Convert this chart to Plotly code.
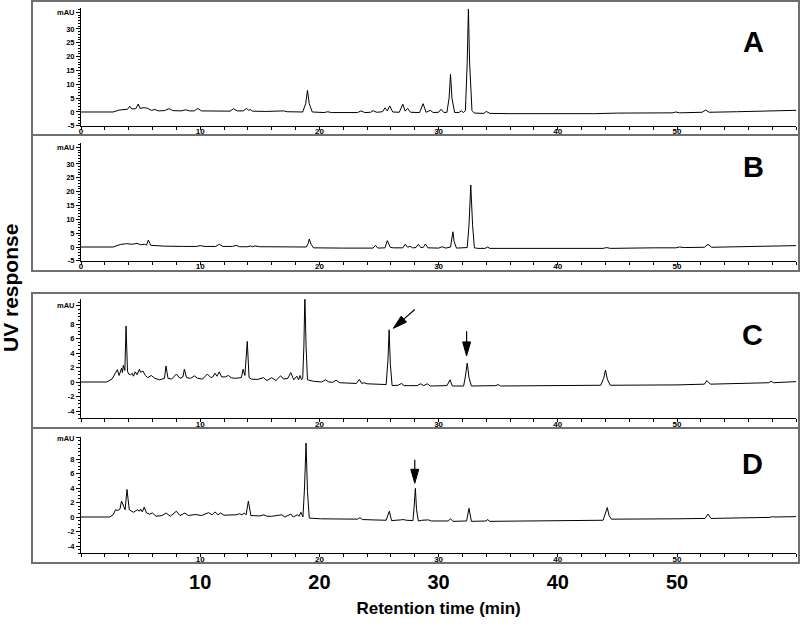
import math
import plotly.graph_objects as go

# chromatogram vertices: retention time (min) and signal (mAU)
rt_a = [0, 2.7, 3.2, 3.6, 3.9, 4.1, 4.25, 4.6, 4.8, 4.95, 5.3, 5.6, 5.9, 6.2, 6.5, 7.0, 7.4, 7.7,
        8.4, 8.8, 9.1, 9.5, 9.8, 10.1, 11.0, 11.6, 12.0, 12.5, 12.8, 13.1, 13.6, 13.9, 14.05, 14.2,
        14.4, 15.5, 17.0, 17.3, 18.6, 18.85, 19.0, 19.15, 19.4, 20.4, 20.7, 21.0, 23.2, 23.5, 23.8,
        24.3, 24.5, 24.8, 25.3, 25.5, 25.7, 25.9, 26.15, 26.7, 27.0, 27.2, 27.4, 27.65, 28.4, 28.7,
        28.95, 29.3, 29.55, 30.0, 30.2, 30.45, 30.7, 30.88, 31.0, 31.12, 31.35, 31.7, 31.9, 32.1,
        32.25, 32.4, 32.5, 32.6, 32.8, 33.0, 33.8, 34.0, 34.3, 36.0, 43.0, 45.0, 49.6, 49.9, 50.2,
        52.1, 52.4, 52.7, 55.0, 60.0]
mau_a = [0, 0, 0.7, 1.0, 1.0, 2.1, 1.1, 1.2, 2.9, 1.3, 1.6, 1.3, 0.6, 0.9, 0.4, 0.5, 1.2, 0.5,
         0.4, 0.8, 0.4, 0.4, 1.3, 0.4, 0.3, 0.5, 0.3, 0.3, 1.2, 0.4, 0.4, 1.3, 0.6, 0.9,
         0.3, 0.2, 0.4, 0.1, 0.0, 3.0, 7.8, 3.0, 0.0, -0.2, 0.1, -0.2, -0.2, 0.4, -0.2,
         -0.1, 0.5, -0.1, 0.1, 1.5, 0.4, 2.2, 0.0, -0.1, 2.8, 0.3, 1.3, -0.1, -0.2, 3.0,
         -0.1, 0.6, -0.2, -0.1, 1.0, -0.2, -0.1, 5.0, 13.6, 5.0, -0.2, -0.2, 0.4, -0.2,
         0.5, 18.0, 37.2, 18.0, 0.5, -0.4, -0.5, 0.2, -0.5, -0.6, -0.6, -0.4, -0.3, 0.0, -0.3,
         -0.1, 0.7, -0.1, 0.1, 0.6]

rt_b = [0, 2.7, 3.3, 3.8, 4.3, 4.7, 5.0, 5.3, 5.5, 5.65, 5.85, 6.3, 7.0, 8.5, 9.7, 10.0, 10.4,
        11.3, 11.6, 11.9, 12.7, 13.0, 13.3, 14.0, 14.2, 14.4, 14.6, 15.0, 17.0, 18.9, 19.05, 19.15,
        19.3, 19.5, 22.0, 24.5, 24.7, 24.9, 25.5, 25.7, 25.95, 26.2, 27.0, 27.2, 27.4, 27.6, 27.8,
        28.1, 28.3, 28.5, 28.7, 28.9, 29.1, 30.0, 30.3, 30.6, 31.0, 31.1, 31.2, 31.3, 31.5, 32.4,
        32.55, 32.7, 32.85, 33.0, 33.3, 33.9, 34.1, 34.3, 40.0, 43.8, 44.1, 44.4, 48.0, 49.9, 50.2,
        50.6, 52.3, 52.6, 52.9, 55.0, 60.0]
mau_b = [0, 0, 0.9, 1.2, 1.0, 1.3, 0.8, 1.0, 0.7, 2.5, 0.6, 0.4, 0.3, 0.2, 0.2, 0.5, 0.2,
         0.2, 1.0, 0.2, 0.2, 0.6, 0.1, 0.1, 0.4, 0.1, 0.4, 0.1, 0.0, 0.0, 1.2, 2.9,
         1.0, -0.3, -0.4, -0.4, 0.6, -0.4, -0.3, 2.3, -0.1, -0.3, -0.3, 1.0, -0.1, 0.3, -0.3,
         -0.2, 1.0, -0.2, -0.2, 1.1, -0.3, -0.4, 0.1, -0.4, 0.0, 2.5, 5.5, 2.0, -0.4, -0.2,
         8.0, 22.4, 8.0, -0.3, -0.5, -0.5, 0.0, -0.5, -0.5, -0.5, -0.2, -0.5, -0.3, -0.3, 0.0,
         -0.2, -0.1, 1.0, -0.1, 0.1, 0.5]

rt_c = [0, 2.15, 2.6, 3.05, 3.2, 3.4, 3.48, 3.55, 3.68, 3.78, 3.9, 4.0, 4.15, 4.3, 4.4, 4.55,
        4.7, 4.9, 5.0, 5.2, 5.4, 5.6, 5.9, 6.2, 6.6, 7.0, 7.13, 7.3, 7.6, 8.0, 8.3, 8.55, 8.67,
        8.85, 9.2, 9.5, 9.8, 10.2, 10.6, 10.9, 11.05, 11.25, 11.4, 11.6, 11.8, 12.1, 12.36, 12.6,
        12.9, 13.2, 13.45, 13.6, 13.75, 13.95, 14.1, 14.3, 14.8, 15.3, 15.6, 16.0, 16.35, 16.75,
        17.0, 17.35, 17.6, 17.85, 18.1, 18.25, 18.37, 18.5, 18.6, 18.7, 18.78, 18.88, 19.0, 19.5,
        20.2, 20.5, 20.8, 21.1, 21.4, 21.7, 23.1, 23.35, 23.55, 23.75, 24.0, 25.6, 25.75, 25.85,
        25.95, 26.1, 26.6, 26.9, 27.1, 27.5, 28.2, 28.5, 28.75, 29.05, 29.3, 30.7, 30.96, 31.15,
        32.1, 32.25, 32.4, 32.55, 32.75, 34.8, 35.0, 35.2, 43.6, 43.85, 44.0, 44.15, 44.4, 50.0,
        52.3, 52.5, 52.8, 57.7, 57.9, 58.1, 60.0]
mau_c = [0, 0, 0.4, 1.7, 0.9, 1.9, 1.3, 2.3, 1.6, 7.7, 1.5, 1.1, 1.0, 1.2, 0.8, 1.4,
         1.0, 1.75, 1.35, 1.5, 0.9, 0.6, 0.9, 0.5, 0.3, 0.5, 2.2, 0.5, 0.4, 1.1, 0.5, 0.7, 1.75,
         0.6, 0.5, 0.85, 0.5, 0.4, 1.1, 0.6, 0.7, 1.2, 0.8, 1.4, 0.7, 0.7, 0.9, 0.6,
         0.5, 0.5, 0.6, 1.75, 0.9, 5.6, 0.6, 0.4, 0.35, 0.6, 0.2, 0.6, 0.2, 0.85,
         0.4, 0.5, 1.3, 0.3, 0.8, 0.3, 0.9, 0.3, 0.5, 5.0, 12.0, 5.0, 0.3, 0.1,
         0.0, 0.3, 0.0, -0.05, 0.25, -0.1, -0.2, 0.35, -0.2, -0.1, -0.25, -0.35, 3.0, 7.2,
         2.5, -0.5, -0.45, -0.2, -0.5, -0.5, -0.5, -0.25, -0.5, -0.25, -0.55, -0.5, 0.3, -0.55,
         -0.55, 0.8, 2.6, 0.6, -0.55, -0.5, -0.35, -0.55, -0.45, 0.5, 1.65, 0.4, -0.45, -0.4,
         -0.3, 0.2, -0.3, -0.1, 0.1, -0.1, 0.05]

rt_d = [0, 2.4, 2.7, 2.9, 3.1, 3.27, 3.4, 3.55, 3.7, 3.86, 4.05, 4.4, 4.73, 4.9, 5.0, 5.15, 5.3,
        5.5, 5.75, 6.0, 6.3, 6.8, 7.13, 7.5, 8.0, 8.3, 8.72, 9.0, 9.6, 10.1, 10.7, 11.0, 11.24,
        11.5, 11.7, 12.0, 13.0, 13.3, 13.5, 13.7, 13.85, 14.04, 14.25, 15.0, 15.35, 15.6, 16.0,
        16.85, 17.1, 17.6, 17.8, 18.15, 18.3, 18.45, 18.62, 18.75, 18.88, 19.0, 19.15, 20.1, 22.0,
        23.2, 23.4, 23.6, 24.5, 25.6, 25.87, 26.05, 26.8, 27.04, 27.3, 27.85, 27.95, 28.05, 28.15,
        28.3, 28.6, 29.14, 29.4, 30.8, 31.0, 31.2, 32.35, 32.55, 32.75, 34.0, 34.1, 34.3, 43.8,
        43.97, 44.15, 44.3, 44.5, 50.0, 52.35, 52.6, 52.85, 57.8, 58.0, 58.2, 60.0]
mau_d = [0, 0, 0.3, 1.0, 0.9, 1.1, 2.2, 1.5, 1.0, 3.8, 1.0, 0.65, 1.0, 0.8, 1.1, 0.7, 1.35,
         0.55, 0.4, 0.55, 0.1, 0.2, 0.55, 0.1, 0.8, 0.2, 0.55, 0.2, 0.35, 0.2, 0.6, 0.3, 0.7,
         0.3, 0.55, 0.25, 0.3, 0.45, 0.3, 0.55, 0.3, 2.2, 0.2, 0.15, 0.3, 0.1, 0.1,
         0.3, 0.0, 0.4, 0.0, 0.3, 0.1, 0.65, 0.0, 4.0, 10.2, 3.5, -0.15, -0.25, -0.3,
         -0.3, -0.1, -0.35, -0.4, -0.45, 0.8, -0.5, -0.4, -0.35, -0.45, -0.5, 1.5, 3.95, 1.0,
         -0.55, -0.45, -0.4, -0.55, -0.55, -0.25, -0.6, -0.55, 1.2, -0.6, -0.55, -0.35, -0.6, -0.45,
         0.3, 1.3, 0.2, -0.3, -0.25, -0.2, 0.4, -0.2, -0.05, 0.05, 0.0, 0.05]

panel_names = ['A', 'B', 'C', 'D']
xtick_ab = [0, 10, 20, 30, 40, 50]
xtick_cd = [10, 20, 30, 40, 50]
ytick_ab = [-5, 0, 5, 10, 15, 20, 25, 30]
ytick_cd = [-4, -2, 0, 2, 4, 6, 8]
big_xtick = [10, 20, 30, 40, 50]

# arrows pointing at peaks: panel, tip (min, mAU), tail (min, mAU)
arrow_panel = ['C', 'C', 'D']
arrow_tip_rt = [26.2, 32.35, 28.0]
arrow_tip_mau = [7.4, 3.6, 4.65]
arrow_tail_rt = [28.0, 32.35, 28.0]
arrow_tail_mau = [10.0, 7.0, 7.9]

# ---- page geometry (pixels of the 800x629 page) ----
W, H = 800, 629
FONT = 'Liberation Sans, Arial, Helvetica, sans-serif'
X0_PX = 81
PX_PER_MIN = 11.92
XDOM = [X0_PX / W, (X0_PX + 60 * PX_PER_MIN) / W]

# zero line px, px per mAU, y range, frame top/bottom px, where "mAU" sits, letter centre
cfg = {
    'A': dict(zero=112, ppu=2.77, yr=(-5, 37.5), frame=(1, 135), unit=36, letter=(753, 42)),
    'B': dict(zero=247, ppu=2.77, yr=(-5, 37.5), frame=(135, 271), unit=36, letter=(753, 167)),
    'C': dict(zero=382, ppu=7.25, yr=(-5, 11.4), frame=(293, 428), unit=10.6, letter=(752, 335)),
    'D': dict(zero=517, ppu=7.25, yr=(-5, 11.0), frame=(428, 563), unit=10.9, letter=(752, 464)),
}
series = {'A': (rt_a, mau_a), 'B': (rt_b, mau_b), 'C': (rt_c, mau_c), 'D': (rt_d, mau_d)}


def ax_key(letter, i):
    return f'{letter}axis' if i == 1 else f'{letter}axis{i}'


def ax_ref(letter, i):
    return letter if i == 1 else f'{letter}{i}'


fig = go.Figure()
tickfont_small = dict(family=FONT, size=8, color='black', weight='bold')
tickfont_y = dict(family=FONT, size=7.5, color='black', weight='bold')

for i, name in enumerate(panel_names, start=1):
    c = cfg[name]
    rt, mau = series[name]
    fig.add_trace(go.Scatter(x=rt, y=mau, mode='lines', line=dict(color='black', width=1),
                             xaxis=ax_ref('x', i), yaxis=ax_ref('y', i),
                             showlegend=False, hoverinfo='skip'))

    lo, hi = c['yr']
    ydom = [1 - (c['zero'] - lo * c['ppu']) / H, 1 - (c['zero'] - hi * c['ppu']) / H]
    yt = ytick_ab if name in 'AB' else ytick_cd
    xt = xtick_ab if name in 'AB' else xtick_cd

    fig.update_layout({
        ax_key('x', i): dict(domain=XDOM, range=[0, 60], anchor=ax_ref('y', i), automargin=False,
                             showline=True, linecolor='black', linewidth=1,
                             showgrid=False, zeroline=False,
                             tickmode='array', tickvals=xt, ticks='outside', ticklen=3,
                             ticklabelstandoff=-5,
                             tickcolor='black', tickfont=tickfont_small,
                             minor=dict(tickmode='linear', tick0=0, dtick=2, ticks='outside',
                                        ticklen=3, tickcolor='black')),
        ax_key('y', i): dict(domain=ydom, range=[lo, hi], anchor=ax_ref('x', i), automargin=False,
                             showline=True, linecolor='black', linewidth=1,
                             showgrid=False, zeroline=False,
                             tickmode='array', tickvals=yt + [c['unit']],
                             ticktext=[str(v) for v in yt] + ['mAU'],
                             ticks='outside', ticklen=4, tickcolor='black', tickfont=tickfont_y,
                             minor=dict(tickmode='linear', tick0=0,
                                        dtick=1 if name in 'AB' else 0.5,
                                        ticks='outside', ticklen=2, tickcolor='black')),
    })

    # panel frame
    f0, f1 = c['frame']
    fig.add_shape(type='rect', xref='paper', yref='paper', x0=32 / W, x1=799 / W,
                  y0=1 - f1 / H, y1=1 - f0 / H, line=dict(color='#6f6f6f', width=2),
                  layer='above')
    lx, ly = c['letter']
    fig.add_annotation(text=name, xref='paper', yref='paper', x=lx / W, y=1 - ly / H,
                       xanchor='center', yanchor='middle', showarrow=False,
                       font=dict(family=FONT, size=29, color='black', weight='bold'))

# arrows, built in screen pixels so the head keeps its shape
for pn, tt, tv, st, sv in zip(arrow_panel, arrow_tip_rt, arrow_tip_mau, arrow_tail_rt, arrow_tail_mau):
    i = panel_names.index(pn) + 1
    ppu = cfg[pn]['ppu']
    tx, ty = tt * PX_PER_MIN, -tv * ppu
    sx, sy = st * PX_PER_MIN, -sv * ppu
    L = math.hypot(tx - sx, ty - sy)
    ux, uy = (tx - sx) / L, (ty - sy) / L
    bx, by = tx - 14 * ux, ty - 14 * uy
    nx, ny = -uy, ux

    def to_data(px, py):
        return px / PX_PER_MIN, -py / ppu

    pts = [to_data(tx, ty), to_data(bx + 4 * nx, by + 4 * ny), to_data(bx - 4 * nx, by - 4 * ny)]
    path = 'M {:.4f},{:.4f} L {:.4f},{:.4f} L {:.4f},{:.4f} Z'.format(*[v for p in pts for v in p])
    fig.add_shape(type='path', path=path, xref=ax_ref('x', i), yref=ax_ref('y', i),
                  fillcolor='black', line=dict(color='black', width=1))
    bt, bv = to_data(bx, by)
    fig.add_shape(type='line', x0=st, y0=sv, x1=bt, y1=bv, xref=ax_ref('x', i), yref=ax_ref('y', i),
                  line=dict(color='black', width=1.2))

# large shared time labels under the last panel
fig.add_trace(go.Scatter(x=[], y=[], xaxis='x5', yaxis='y4', showlegend=False, hoverinfo='skip'))
fig.update_layout(
    xaxis5=dict(overlaying='x4', anchor='free', position=1 - 568 / H, domain=XDOM, range=[0, 60],
                automargin=False, showline=False, showgrid=False, zeroline=False, ticks='',
                tickmode='array', tickvals=big_xtick,
                tickfont=dict(family=FONT, size=20, color='black', weight='bold'),
                title=dict(text='Retention time (min)', standoff=10,
                           font=dict(family=FONT, size=17, color='black', weight='bold'))),
)

fig.add_annotation(text='UV response', xref='paper', yref='paper', x=10 / W, y=1 - 288 / H,
                   textangle=-90, xanchor='center', yanchor='middle', showarrow=False,
                   font=dict(family=FONT, size=21, color='black', weight='bold'))

fig.update_layout(width=W, height=H, margin=dict(l=0, r=0, t=0, b=0),
                  paper_bgcolor='white', plot_bgcolor='white', hovermode=False,
                  font=dict(family=FONT))

# the page body has a default margin; drop it so the figure sits at the window origin
fig.write_html('out.html', config={'displayModeBar': False},
               post_script="document.body.style.margin='0px';")
